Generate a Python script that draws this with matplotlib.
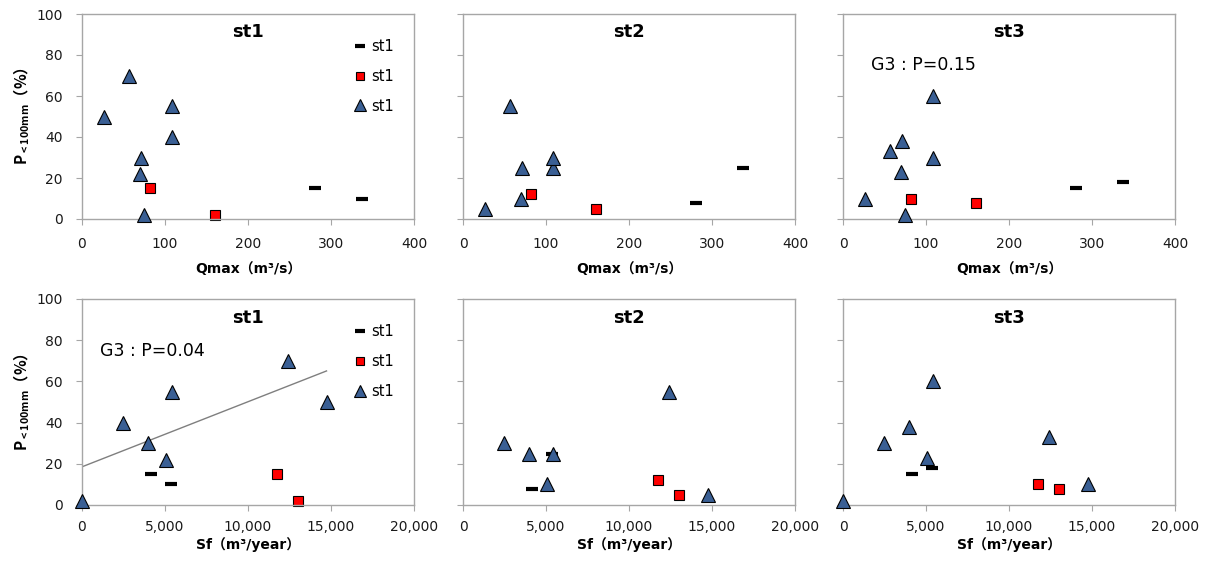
import numpy as np
import matplotlib
matplotlib.use('Agg')
import matplotlib.pyplot as plt
from matplotlib.ticker import FuncFormatter

plt.rcParams['font.family'] = ['DejaVu Sans', 'Noto Sans CJK JP']
plt.rcParams['mathtext.default'] = 'regular'

stations = ['st1', 'st2', 'st3']

# triangle series (same events for every station)
qmax_tri = [27, 57, 71.5, 69.5, 75, 108, 108]
sf_tri = [14730, 12420, 3960, 5085, 0, 5430, 2450]
p_tri = {
    'st1': [50, 70, 30, 22, 2, 55, 40],
    'st2': [5, 55, 25, 10, np.nan, 25, 30],
    'st3': [10, 33, 38, 23, 2, 60, 30],
}

# red square series
qmax_sq = [82, 160]
sf_sq = [11760, 13030]
p_sq = {
    'st1': [15, 2],
    'st2': [12, 5],
    'st3': [10, 8],
}

# black dash series
qmax_dash = [281, 337]
sf_dash = [4160, 5390]
p_dash = {
    'st1': [15, 10],
    'st2': [8, 25],
    'st3': [15, 18],
}

legend_labels = ['st1', 'st1', 'st1']
notes = {(0, 'st3'): 'G3 : P=0.15', (1, 'st1'): 'G3 : P=0.04'}
note_pos = {(0, 'st3'): (34, 75), (1, 'st1'): (1100, 75)}

tri_color = '#3A5F94'
spine_color = '#A6A6A6'

fig = plt.figure(figsize=(12.07, 5.66), dpi=100)

lefts = [82 / 1207, 463 / 1207, 843 / 1207]
width = 332 / 1207
rows = [(1 - 219 / 566, 205 / 566), (1 - 505 / 566, 206 / 566)]

for r, (bottom, height) in enumerate(rows):
    xs_tri = qmax_tri if r == 0 else sf_tri
    xs_sq = qmax_sq if r == 0 else sf_sq
    xs_dash = qmax_dash if r == 0 else sf_dash
    for c, st in enumerate(stations):
        ax = fig.add_axes([lefts[c], bottom, width, height])

        ax.plot(xs_dash, p_dash[st], linestyle='none', marker='_', ms=9,
                mew=3, color='black', label=legend_labels[0], clip_on=False)
        ax.plot(xs_sq, p_sq[st], linestyle='none', marker='s', ms=7,
                mfc='#FF0000', mec='black', mew=0.8, label=legend_labels[1],
                clip_on=False)
        ax.plot(xs_tri, p_tri[st], linestyle='none', marker='^', ms=10,
                mfc=tri_color, mec='black', mew=0.8, label=legend_labels[2],
                clip_on=False, zorder=3)

        if (r, st) == (1, 'st1'):
            # linear trend of the triangle series
            k, b = np.polyfit(sf_tri, p_tri[st], 1)
            xl = np.array([min(sf_tri), max(sf_tri)])
            ax.plot(xl, k * xl + b, color='#7F7F7F', lw=1, zorder=1)

        if (r, st) in notes:
            ax.text(*note_pos[(r, st)], notes[(r, st)], fontsize=12.5,
                    va='center', ha='left')

        if r == 0:
            ax.set_xlim(0, 400)
            ax.set_xticks(range(0, 401, 100))
            ax.set_xlabel('Qmax（m³/s）', fontsize=10, fontweight='bold',
                          labelpad=8)
        else:
            ax.set_xlim(0, 20000)
            ax.set_xticks(range(0, 20001, 5000))
            ax.xaxis.set_major_formatter(FuncFormatter(lambda v, p: f'{int(v):,}'))
            ax.set_xlabel('Sf（m³/year）', fontsize=10, fontweight='bold',
                          labelpad=2)
        ax.set_ylim(0, 100)
        ax.set_yticks(range(0, 101, 20))

        ax.text(0.5, 0.91, st, transform=ax.transAxes, ha='center',
                va='center', fontsize=13, fontweight='bold')

        for s in ax.spines.values():
            s.set_color(spine_color)
            s.set_linewidth(1)
        ax.tick_params(direction='out', length=4, color=spine_color,
                       labelsize=10, labelcolor='#1A1A1A')
        ax.tick_params(axis='y', pad=10)
        ax.tick_params(axis='x', pad=9 if r == 0 else 7)

        if c == 0:
            ax.set_ylabel('P$_{<100mm}$（%）', fontsize=11, fontweight='bold',
                          family='Noto Sans CJK JP', labelpad=3)
            ax.legend(loc='upper left', bbox_to_anchor=(0.78, 0.94),
                      frameon=False, fontsize=10.5, handlelength=0.8,
                      handletextpad=0.4, labelspacing=1.0, markerscale=0.85)
        else:
            ax.set_yticklabels([])

fig.savefig('out.png', dpi=100)
